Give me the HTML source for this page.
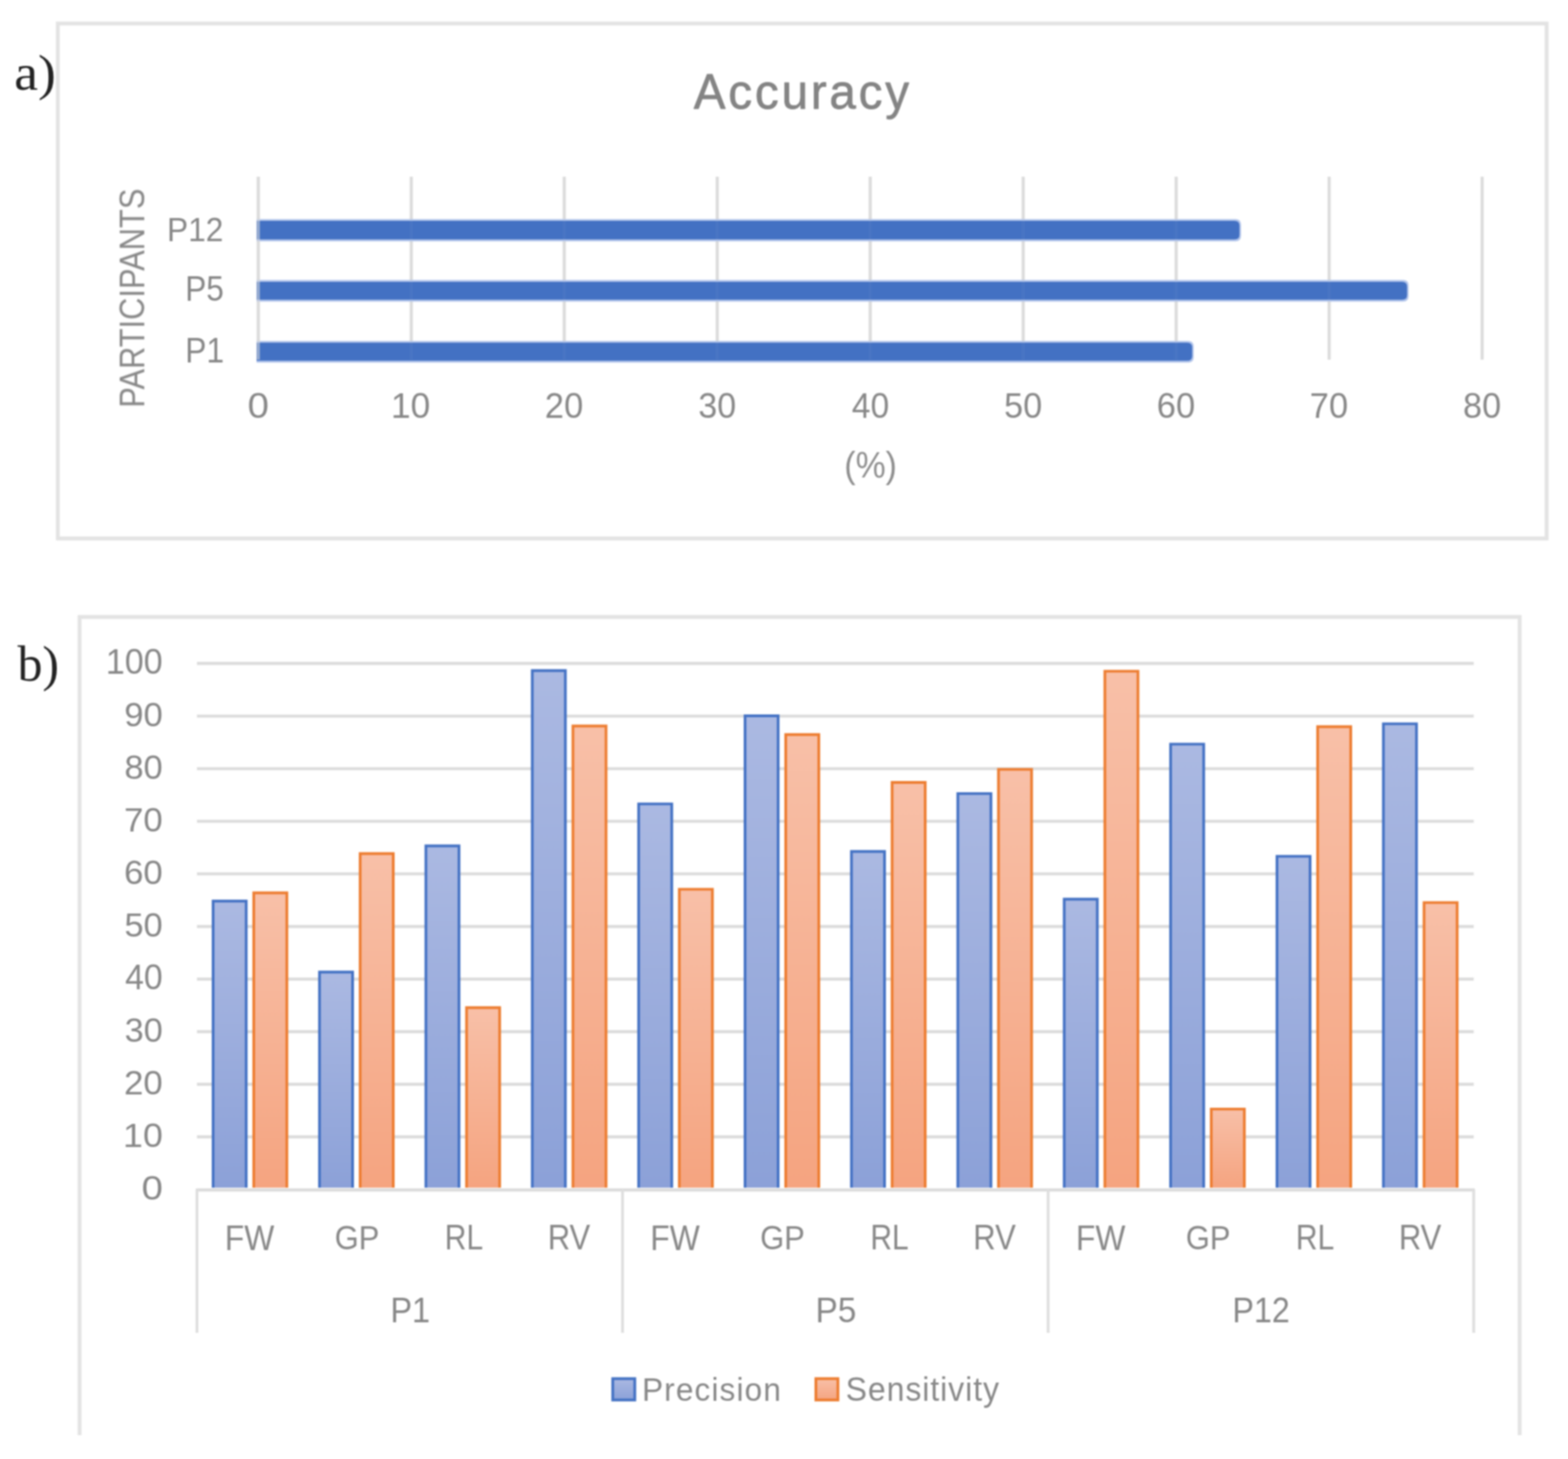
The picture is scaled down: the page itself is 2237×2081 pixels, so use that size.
<!DOCTYPE html>
<html lang="en">
<head>
<meta charset="utf-8">
<title>Accuracy, precision and sensitivity charts</title>
<style>
html, body { margin: 0; padding: 0; background: #ffffff; }
body { width: 2237px; height: 2081px; overflow: hidden; font-family: "Liberation Sans", sans-serif; }
svg { display: block; filter: blur(1.2px); }
</style>
</head>
<body>
<svg width="2237" height="2081" viewBox="0 0 2237 2081">
<rect x="0" y="0" width="2237" height="2081" fill="#ffffff"/>
<rect x="82.5" y="33.5" width="2124.0" height="734.5" fill="none" stroke="#e3e3e3" stroke-width="5.5"/>
<line x1="368.50" y1="252" x2="368.50" y2="513" stroke="#dcdcdc" stroke-width="4.5"/>
<line x1="586.75" y1="252" x2="586.75" y2="513" stroke="#dcdcdc" stroke-width="4.5"/>
<line x1="805.00" y1="252" x2="805.00" y2="513" stroke="#dcdcdc" stroke-width="4.5"/>
<line x1="1023.25" y1="252" x2="1023.25" y2="513" stroke="#dcdcdc" stroke-width="4.5"/>
<line x1="1241.50" y1="252" x2="1241.50" y2="513" stroke="#dcdcdc" stroke-width="4.5"/>
<line x1="1459.75" y1="252" x2="1459.75" y2="513" stroke="#dcdcdc" stroke-width="4.5"/>
<line x1="1678.00" y1="252" x2="1678.00" y2="513" stroke="#dcdcdc" stroke-width="4.5"/>
<line x1="1896.25" y1="252" x2="1896.25" y2="513" stroke="#dcdcdc" stroke-width="4.5"/>
<line x1="2114.50" y1="252" x2="2114.50" y2="513" stroke="#dcdcdc" stroke-width="4.5"/>
<path d="M366 312.5 H1762.5 Q1770.5 312.5 1770.5 320.5 V336.2 Q1770.5 344.2 1762.5 344.2 H366 Z" fill="#b4c6eb"/>
<path d="M366 315.1 H1761.3 Q1768.3 315.1 1768.3 322.1 V334.59999999999997 Q1768.3 341.59999999999997 1761.3 341.59999999999997 H366 Z" fill="#4371c3"/>
<path d="M366 399.3 H2001.6 Q2009.6 399.3 2009.6 407.3 V422.2 Q2009.6 430.2 2001.6 430.2 H366 Z" fill="#b4c6eb"/>
<path d="M366 401.90000000000003 H2000.3999999999999 Q2007.3999999999999 401.90000000000003 2007.3999999999999 408.90000000000003 V420.59999999999997 Q2007.3999999999999 427.59999999999997 2000.3999999999999 427.59999999999997 H366 Z" fill="#4371c3"/>
<path d="M366 486.2 H1695.0 Q1703.0 486.2 1703.0 494.2 V509.20000000000005 Q1703.0 517.2 1695.0 517.2 H366 Z" fill="#b4c6eb"/>
<path d="M366 488.8 H1693.8 Q1700.8 488.8 1700.8 495.8 V507.6 Q1700.8 514.6 1693.8 514.6 H366 Z" fill="#4371c3"/>
<line x1="586.75" y1="252" x2="586.75" y2="513" stroke="#dcdcdc" stroke-width="4.5" opacity="0.04"/>
<line x1="805.00" y1="252" x2="805.00" y2="513" stroke="#dcdcdc" stroke-width="4.5" opacity="0.04"/>
<line x1="1023.25" y1="252" x2="1023.25" y2="513" stroke="#dcdcdc" stroke-width="4.5" opacity="0.04"/>
<line x1="1241.50" y1="252" x2="1241.50" y2="513" stroke="#dcdcdc" stroke-width="4.5" opacity="0.04"/>
<line x1="1459.75" y1="252" x2="1459.75" y2="513" stroke="#dcdcdc" stroke-width="4.5" opacity="0.04"/>
<line x1="1678.00" y1="252" x2="1678.00" y2="513" stroke="#dcdcdc" stroke-width="4.5" opacity="0.04"/>
<line x1="1896.25" y1="252" x2="1896.25" y2="513" stroke="#dcdcdc" stroke-width="4.5" opacity="0.04"/>
<line x1="368.50" y1="252" x2="368.50" y2="513" stroke="#dcdcdc" stroke-width="4.5" opacity="0.55"/>
<path d="M113.5 2047 V880 H2168 V2047" fill="none" stroke="#e3e3e3" stroke-width="5.5"/>
<line x1="281.0" y1="1621.57" x2="2102.5" y2="1621.57" stroke="#dcdcdc" stroke-width="4.4"/>
<line x1="281.0" y1="1546.54" x2="2102.5" y2="1546.54" stroke="#dcdcdc" stroke-width="4.4"/>
<line x1="281.0" y1="1471.51" x2="2102.5" y2="1471.51" stroke="#dcdcdc" stroke-width="4.4"/>
<line x1="281.0" y1="1396.48" x2="2102.5" y2="1396.48" stroke="#dcdcdc" stroke-width="4.4"/>
<line x1="281.0" y1="1321.45" x2="2102.5" y2="1321.45" stroke="#dcdcdc" stroke-width="4.4"/>
<line x1="281.0" y1="1246.42" x2="2102.5" y2="1246.42" stroke="#dcdcdc" stroke-width="4.4"/>
<line x1="281.0" y1="1171.39" x2="2102.5" y2="1171.39" stroke="#dcdcdc" stroke-width="4.4"/>
<line x1="281.0" y1="1096.36" x2="2102.5" y2="1096.36" stroke="#dcdcdc" stroke-width="4.4"/>
<line x1="281.0" y1="1021.33" x2="2102.5" y2="1021.33" stroke="#dcdcdc" stroke-width="4.4"/>
<line x1="281.0" y1="946.30" x2="2102.5" y2="946.30" stroke="#dcdcdc" stroke-width="4.4"/>
<defs>
<linearGradient id="gb" x1="0" y1="0" x2="0" y2="1"><stop offset="0" stop-color="#abb9e2"/><stop offset="1" stop-color="#8ca1d8"/></linearGradient>
<linearGradient id="go" x1="0" y1="0" x2="0" y2="1"><stop offset="0" stop-color="#f8c0a8"/><stop offset="1" stop-color="#f5a480"/></linearGradient>
</defs>
<rect x="303.10" y="1284.30" width="49.10" height="409.70" fill="url(#gb)"/>
<path d="M304.05 1694.00 V1285.25 H351.25 V1694.00" fill="none" stroke="#4472c4" stroke-width="3.9"/>
<rect x="361.10" y="1272.60" width="49.10" height="421.40" fill="url(#go)"/>
<path d="M362.05 1694.00 V1273.55 H409.25 V1694.00" fill="none" stroke="#ed7d31" stroke-width="3.9"/>
<rect x="454.88" y="1385.60" width="49.10" height="308.40" fill="url(#gb)"/>
<path d="M455.83 1694.00 V1386.55 H503.03 V1694.00" fill="none" stroke="#4472c4" stroke-width="3.9"/>
<rect x="512.88" y="1216.50" width="49.10" height="477.50" fill="url(#go)"/>
<path d="M513.83 1694.00 V1217.45 H561.03 V1694.00" fill="none" stroke="#ed7d31" stroke-width="3.9"/>
<rect x="606.66" y="1205.50" width="49.10" height="488.50" fill="url(#gb)"/>
<path d="M607.61 1694.00 V1206.45 H654.81 V1694.00" fill="none" stroke="#4472c4" stroke-width="3.9"/>
<rect x="664.66" y="1436.30" width="49.10" height="257.70" fill="url(#go)"/>
<path d="M665.61 1694.00 V1437.25 H712.81 V1694.00" fill="none" stroke="#ed7d31" stroke-width="3.9"/>
<rect x="758.44" y="955.50" width="49.10" height="738.50" fill="url(#gb)"/>
<path d="M759.39 1694.00 V956.45 H806.59 V1694.00" fill="none" stroke="#4472c4" stroke-width="3.9"/>
<rect x="816.44" y="1034.50" width="49.10" height="659.50" fill="url(#go)"/>
<path d="M817.39 1694.00 V1035.45 H864.59 V1694.00" fill="none" stroke="#ed7d31" stroke-width="3.9"/>
<rect x="910.22" y="1145.70" width="49.10" height="548.30" fill="url(#gb)"/>
<path d="M911.17 1694.00 V1146.65 H958.37 V1694.00" fill="none" stroke="#4472c4" stroke-width="3.9"/>
<rect x="968.22" y="1267.40" width="49.10" height="426.60" fill="url(#go)"/>
<path d="M969.17 1694.00 V1268.35 H1016.37 V1694.00" fill="none" stroke="#ed7d31" stroke-width="3.9"/>
<rect x="1062.00" y="1020.10" width="49.10" height="673.90" fill="url(#gb)"/>
<path d="M1062.95 1694.00 V1021.05 H1110.15 V1694.00" fill="none" stroke="#4472c4" stroke-width="3.9"/>
<rect x="1120.00" y="1046.80" width="49.10" height="647.20" fill="url(#go)"/>
<path d="M1120.95 1694.00 V1047.75 H1168.15 V1694.00" fill="none" stroke="#ed7d31" stroke-width="3.9"/>
<rect x="1213.78" y="1213.60" width="49.10" height="480.40" fill="url(#gb)"/>
<path d="M1214.73 1694.00 V1214.55 H1261.93 V1694.00" fill="none" stroke="#4472c4" stroke-width="3.9"/>
<rect x="1271.78" y="1115.10" width="49.10" height="578.90" fill="url(#go)"/>
<path d="M1272.73 1694.00 V1116.05 H1319.93 V1694.00" fill="none" stroke="#ed7d31" stroke-width="3.9"/>
<rect x="1365.56" y="1130.90" width="49.10" height="563.10" fill="url(#gb)"/>
<path d="M1366.51 1694.00 V1131.85 H1413.71 V1694.00" fill="none" stroke="#4472c4" stroke-width="3.9"/>
<rect x="1423.56" y="1096.40" width="49.10" height="597.60" fill="url(#go)"/>
<path d="M1424.51 1694.00 V1097.35 H1471.71 V1694.00" fill="none" stroke="#ed7d31" stroke-width="3.9"/>
<rect x="1517.34" y="1281.50" width="49.10" height="412.50" fill="url(#gb)"/>
<path d="M1518.29 1694.00 V1282.45 H1565.49 V1694.00" fill="none" stroke="#4472c4" stroke-width="3.9"/>
<rect x="1575.34" y="956.40" width="49.10" height="737.60" fill="url(#go)"/>
<path d="M1576.29 1694.00 V957.35 H1623.49 V1694.00" fill="none" stroke="#ed7d31" stroke-width="3.9"/>
<rect x="1669.12" y="1060.40" width="49.10" height="633.60" fill="url(#gb)"/>
<path d="M1670.07 1694.00 V1061.35 H1717.27 V1694.00" fill="none" stroke="#4472c4" stroke-width="3.9"/>
<rect x="1727.12" y="1580.90" width="49.10" height="113.10" fill="url(#go)"/>
<path d="M1728.07 1694.00 V1581.85 H1775.27 V1694.00" fill="none" stroke="#ed7d31" stroke-width="3.9"/>
<rect x="1820.90" y="1220.40" width="49.10" height="473.60" fill="url(#gb)"/>
<path d="M1821.85 1694.00 V1221.35 H1869.05 V1694.00" fill="none" stroke="#4472c4" stroke-width="3.9"/>
<rect x="1878.90" y="1035.60" width="49.10" height="658.40" fill="url(#go)"/>
<path d="M1879.85 1694.00 V1036.55 H1927.05 V1694.00" fill="none" stroke="#ed7d31" stroke-width="3.9"/>
<rect x="1972.68" y="1031.40" width="49.10" height="662.60" fill="url(#gb)"/>
<path d="M1973.63 1694.00 V1032.35 H2020.83 V1694.00" fill="none" stroke="#4472c4" stroke-width="3.9"/>
<rect x="2030.68" y="1286.40" width="49.10" height="407.60" fill="url(#go)"/>
<path d="M2031.63 1694.00 V1287.35 H2078.83 V1694.00" fill="none" stroke="#ed7d31" stroke-width="3.9"/>
<line x1="279.5" y1="1697.1999999999998" x2="2104.0" y2="1697.1999999999998" stroke="#dcdcdc" stroke-width="4.4"/>
<line x1="281.00" y1="1696.6" x2="281.00" y2="1901" stroke="#dedede" stroke-width="4"/>
<line x1="888.17" y1="1696.6" x2="888.17" y2="1901" stroke="#dedede" stroke-width="4"/>
<line x1="1495.33" y1="1696.6" x2="1495.33" y2="1901" stroke="#dedede" stroke-width="4"/>
<line x1="2102.50" y1="1696.6" x2="2102.50" y2="1901" stroke="#dedede" stroke-width="4"/>
<rect x="874.2" y="1966.4" width="31.4" height="30.4" fill="url(#gb)" stroke="#4472c4" stroke-width="4"/>
<rect x="1164" y="1966.4" width="31.4" height="30.4" fill="url(#go)" stroke="#ed7d31" stroke-width="4"/>
<filter id="tb" x="-5%" y="-5%" width="110%" height="110%"><feGaussianBlur stdDeviation="0.7"/></filter>
<g filter="url(#tb)">
<text transform="matrix(0.38277 0 0 0.36264 20.32 128.41)" font-family="'Liberation Serif', serif" font-size="200" fill="#222222">a)</text>
<text transform="matrix(0.33947 0 0 0.35361 989.75 154.62)" font-family="'Liberation Sans', sans-serif" font-size="200" fill="#848484" stroke="#848484" stroke-width="2.60" stroke-linejoin="round" letter-spacing="11.78">Accuracy</text>
<text transform="matrix(0 -0.21973 0.24825 0 205.50 581.52)" font-family="'Liberation Sans', sans-serif" font-size="200" fill="#888888">PARTICIPANTS</text>
<text transform="matrix(0.22593 0 0 0.23929 238.29 344.40)" font-family="'Liberation Sans', sans-serif" font-size="200" fill="#888888">P12</text>
<text transform="matrix(0.22550 0 0 0.24714 264.29 429.31)" font-family="'Liberation Sans', sans-serif" font-size="200" fill="#888888">P5</text>
<text transform="matrix(0.22653 0 0 0.25072 264.28 517.40)" font-family="'Liberation Sans', sans-serif" font-size="200" fill="#888888">P1</text>
<text transform="matrix(0.27320 0 0 0.25211 353.34 595.90)" font-family="'Liberation Sans', sans-serif" font-size="200" fill="#888888">0</text>
<text transform="matrix(0.25221 0 0 0.25211 557.72 595.90)" font-family="'Liberation Sans', sans-serif" font-size="200" fill="#888888">10</text>
<text transform="matrix(0.24606 0 0 0.25211 777.29 595.90)" font-family="'Liberation Sans', sans-serif" font-size="200" fill="#888888">20</text>
<text transform="matrix(0.24252 0 0 0.25211 996.30 595.90)" font-family="'Liberation Sans', sans-serif" font-size="200" fill="#888888">30</text>
<text transform="matrix(0.23908 0 0 0.25211 1215.29 595.90)" font-family="'Liberation Sans', sans-serif" font-size="200" fill="#888888">40</text>
<text transform="matrix(0.24369 0 0 0.25211 1432.55 595.90)" font-family="'Liberation Sans', sans-serif" font-size="200" fill="#888888">50</text>
<text transform="matrix(0.24606 0 0 0.25211 1650.29 595.90)" font-family="'Liberation Sans', sans-serif" font-size="200" fill="#888888">60</text>
<text transform="matrix(0.24606 0 0 0.25211 1868.54 595.90)" font-family="'Liberation Sans', sans-serif" font-size="200" fill="#888888">70</text>
<text transform="matrix(0.24369 0 0 0.25035 2087.30 595.90)" font-family="'Liberation Sans', sans-serif" font-size="200" fill="#888888">80</text>
<text transform="matrix(0.24075 0 0 0.26203 1204.61 680.79)" font-family="'Liberation Sans', sans-serif" font-size="200" fill="#8e8e8e">(%)</text>
<text transform="matrix(0.35570 0 0 0.35659 24.90 971.27)" font-family="'Liberation Serif', serif" font-size="200" fill="#222222">b)</text>
<text transform="matrix(0.27320 0 0 0.24507 201.99 1711.11)" font-family="'Liberation Sans', sans-serif" font-size="200" fill="#888888">0</text>
<text transform="matrix(0.25471 0 0 0.24507 175.58 1636.08)" font-family="'Liberation Sans', sans-serif" font-size="200" fill="#888888">10</text>
<text transform="matrix(0.24850 0 0 0.24507 176.91 1561.05)" font-family="'Liberation Sans', sans-serif" font-size="200" fill="#888888">20</text>
<text transform="matrix(0.24492 0 0 0.24507 177.69 1486.02)" font-family="'Liberation Sans', sans-serif" font-size="200" fill="#888888">30</text>
<text transform="matrix(0.24144 0 0 0.24507 178.43 1410.99)" font-family="'Liberation Sans', sans-serif" font-size="200" fill="#888888">40</text>
<text transform="matrix(0.24610 0 0 0.24507 177.43 1335.96)" font-family="'Liberation Sans', sans-serif" font-size="200" fill="#888888">50</text>
<text transform="matrix(0.24850 0 0 0.24507 176.91 1260.93)" font-family="'Liberation Sans', sans-serif" font-size="200" fill="#888888">60</text>
<text transform="matrix(0.24850 0 0 0.24507 176.91 1185.90)" font-family="'Liberation Sans', sans-serif" font-size="200" fill="#888888">70</text>
<text transform="matrix(0.24610 0 0 0.24336 177.43 1110.87)" font-family="'Liberation Sans', sans-serif" font-size="200" fill="#888888">80</text>
<text transform="matrix(0.24730 0 0 0.24507 177.17 1035.84)" font-family="'Liberation Sans', sans-serif" font-size="200" fill="#888888">90</text>
<text transform="matrix(0.24337 0 0 0.24507 150.95 960.81)" font-family="'Liberation Sans', sans-serif" font-size="200" fill="#888888">100</text>
<text transform="matrix(0.22699 0 0 0.24783 320.67 1782.70)" font-family="'Liberation Sans', sans-serif" font-size="200" fill="#888888">FW</text>
<text transform="matrix(0.22043 0 0 0.24085 477.40 1782.22)" font-family="'Liberation Sans', sans-serif" font-size="200" fill="#888888">GP</text>
<text transform="matrix(0.21419 0 0 0.24604 634.57 1782.45)" font-family="'Liberation Sans', sans-serif" font-size="200" fill="#888888">RL</text>
<text transform="matrix(0.22108 0 0 0.24604 781.46 1782.45)" font-family="'Liberation Sans', sans-serif" font-size="200" fill="#888888">RV</text>
<text transform="matrix(0.22699 0 0 0.24783 927.79 1782.70)" font-family="'Liberation Sans', sans-serif" font-size="200" fill="#888888">FW</text>
<text transform="matrix(0.22043 0 0 0.24085 1084.52 1782.22)" font-family="'Liberation Sans', sans-serif" font-size="200" fill="#888888">GP</text>
<text transform="matrix(0.21419 0 0 0.24604 1241.69 1782.45)" font-family="'Liberation Sans', sans-serif" font-size="200" fill="#888888">RL</text>
<text transform="matrix(0.22108 0 0 0.24604 1388.58 1782.45)" font-family="'Liberation Sans', sans-serif" font-size="200" fill="#888888">RV</text>
<text transform="matrix(0.22699 0 0 0.24783 1534.91 1782.70)" font-family="'Liberation Sans', sans-serif" font-size="200" fill="#888888">FW</text>
<text transform="matrix(0.22043 0 0 0.24085 1691.64 1782.22)" font-family="'Liberation Sans', sans-serif" font-size="200" fill="#888888">GP</text>
<text transform="matrix(0.21419 0 0 0.24604 1848.81 1782.45)" font-family="'Liberation Sans', sans-serif" font-size="200" fill="#888888">RL</text>
<text transform="matrix(0.22108 0 0 0.24604 1995.70 1782.45)" font-family="'Liberation Sans', sans-serif" font-size="200" fill="#888888">RV</text>
<text transform="matrix(0.23200 0 0 0.25217 556.89 1886.00)" font-family="'Liberation Sans', sans-serif" font-size="200" fill="#888888">P1</text>
<text transform="matrix(0.23775 0 0 0.25286 1163.60 1886.09)" font-family="'Liberation Sans', sans-serif" font-size="200" fill="#888888">P5</text>
<text transform="matrix(0.22986 0 0 0.24857 1758.32 1886.00)" font-family="'Liberation Sans', sans-serif" font-size="200" fill="#888888">P12</text>
<text transform="matrix(0.22522 0 0 0.23333 915.90 1998.12)" font-family="'Liberation Sans', sans-serif" font-size="200" fill="#888888" letter-spacing="7.10">Precision</text>
<text transform="matrix(0.22742 0 0 0.23793 1206.55 1997.70)" font-family="'Liberation Sans', sans-serif" font-size="200" fill="#888888" letter-spacing="6.16">Sensitivity</text>
</g>
</svg>
</body>
</html>
